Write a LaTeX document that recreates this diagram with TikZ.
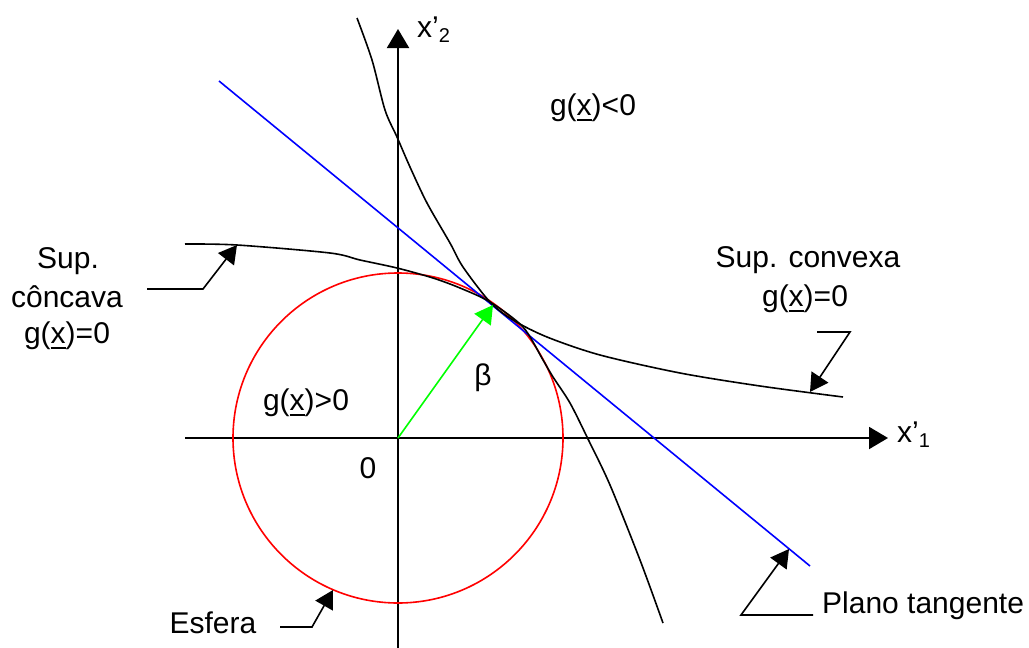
\documentclass[tikz,border=0pt]{standalone}
\usepackage{fontspec}
\setmainfont{Liberation Sans}
\usetikzlibrary{arrows.meta}
\newcommand\ulx[1]{\setbox0\hbox{#1}\rlap{\raisebox{-6pt}{\rule{\wd0}{2pt}}}#1}
\newcommand\subsc[1]{\raisebox{-5pt}{\fontsize{20}{20}\selectfont #1}}
\begin{document}
\begin{tikzpicture}[x=1pt,y=-1pt,
  lbl/.style={font=\fontsize{30}{36}\selectfont, inner sep=0, anchor=base},
  curve/.style={line width=1.6pt, black},
  axis/.style={line width=2pt, -{Triangle[length=19pt,width=22pt]}},
  leader/.style={line width=1.6pt, -{Triangle[length=18pt,width=20pt]}},
]
\useasboundingbox (0,0) rectangle (1029,648);

% axes
\coordinate (O) at (398,438);
\coordinate (xa) at (185,438); \coordinate (xb) at (888,438);
\coordinate (ya) at (398,648); \coordinate (yb) at (398,29);
\draw[axis] (xa) -- (xb);
\draw[axis] (ya) -- (yb);

% sphere
\draw[red, line width=1.6pt] (O) circle[radius=165pt];

% tangent plane
\coordinate (b1) at (219,81); \coordinate (b2) at (810,566);
\draw[blue, line width=1.6pt] (b1) -- (b2);

% convex surface
\draw[curve] plot[smooth, tension=0.5] coordinates {(357,18) (372,60) (385,110) (397,137) (410,167) (427,203) (450,243) (463,267) (490,302) (513,320) (547,337) (600,355) (680,373) (760,386) (843,397)};

% concave surface
\draw[curve] plot[smooth, tension=0.5] coordinates {(185,244) (237,245) (330,253) (360,260) (397,268) (433,278) (460,288) (490,302) (523,327) (543,360) (553,377) (570,403) (588,439) (610,485) (640,560) (663,623)};

% beta arrow
\coordinate (T) at (493,305);
\draw[green, line width=1.6pt, -{Triangle[length=18pt,width=20pt]}] (O) -- (T);

% leaders
\coordinate (c1) at (147,289); \coordinate (c2) at (203,289); \coordinate (c3) at (237,245);
\draw[leader] (c1) -- (c2) -- (c3);
\coordinate (v1) at (817,332); \coordinate (v2) at (850,332); \coordinate (v3) at (810,392);
\draw[leader] (v1) -- (v2) -- (v3);
\coordinate (p1) at (813,615); \coordinate (p2) at (741,615); \coordinate (p3) at (789,549);
\draw[leader] (p1) -- (p2) -- (p3);
\coordinate (e1) at (280,627); \coordinate (e2) at (312,627); \coordinate (e3) at (333,590);
\draw[leader] (e1) -- (e2) -- (e3);

% labels
\node[lbl] (sup1) at (68,268) {Sup.};
\node[lbl] (sup2) at (67,307) {côncava};
\node[lbl] (sup3) at (67,343) {g(\ulx{x})=0};
\node[lbl] (cx1) at (808,267) {Sup. convexa};
\node[lbl] (cx2) at (805,306) {g(\ulx{x})=0};
\node[lbl] (neg) at (593,115) {g(\ulx{x})<0};
\node[lbl] (pos) at (306,410) {g(\ulx{x})>0};
\node[lbl] (zero) at (368,478) {0};
\node[lbl] (beta) at (483,385) {β};
\node[lbl, anchor=base west] (x2) at (417,37) {x’\subsc{2}};
\node[lbl, anchor=base west] (x1) at (897,442) {x’\subsc{1}};
\node[lbl, anchor=base west] (plano) at (822,613) {Plano tangente};
\node[lbl] (esfera) at (213,633) {Esfera};
\end{tikzpicture}
\end{document}
